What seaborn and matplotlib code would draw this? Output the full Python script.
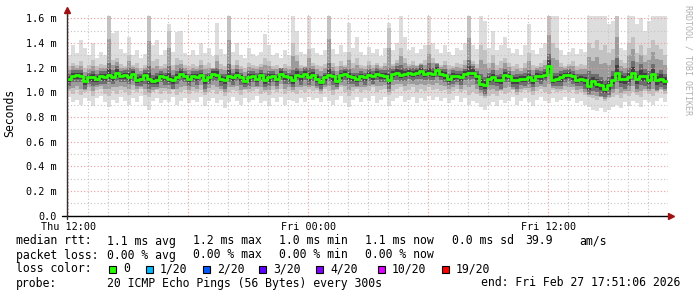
import numpy as np
import pandas as pd
import matplotlib
matplotlib.use("Agg")
import matplotlib.pyplot as plt
import matplotlib.dates as mdates
from matplotlib.ticker import FixedLocator, MultipleLocator, FuncFormatter
from matplotlib.patches import Rectangle
import seaborn as sns

# ---------------- data ----------------
start_time = "2026-02-26 11:55"
end_time = "2026-02-27 18:00"
step_minutes = 12

median_rtt = [
    1.11, 1.13, 1.14, 1.13, 1.09, 1.12, 1.12, 1.11, 1.13, 1.12, 1.14, 1.12, 1.16, 1.13, 1.14, 1.12,
    1.15, 1.10, 1.11, 1.14, 1.11, 1.09, 1.10, 1.13, 1.12, 1.11, 1.10, 1.12, 1.15, 1.13, 1.11,
    1.13, 1.12, 1.14, 1.10, 1.12, 1.15, 1.14, 1.11, 1.10, 1.13, 1.12, 1.14, 1.12, 1.09, 1.12, 1.13,
    1.11, 1.14, 1.10, 1.12, 1.13, 1.11, 1.15, 1.13, 1.12, 1.10, 1.14, 1.13, 1.15, 1.12, 1.14,
    1.11, 1.08, 1.12, 1.14, 1.13, 1.09, 1.14, 1.15, 1.13, 1.12, 1.11, 1.13, 1.12, 1.14, 1.13,
    1.15, 1.14, 1.13, 1.10, 1.15, 1.16, 1.14, 1.15, 1.16, 1.15, 1.16, 1.17, 1.15, 1.16, 1.15,
    1.18, 1.15, 1.14, 1.11, 1.13, 1.13, 1.12, 1.15, 1.16, 1.16, 1.13, 1.07, 1.06, 1.11, 1.12, 1.10,
    1.10, 1.14, 1.13, 1.10, 1.10, 1.11, 1.11, 1.12, 1.10, 1.13, 1.13, 1.14, 1.21, 1.10, 1.11,
    1.12, 1.14, 1.14, 1.13, 1.10, 1.11, 1.10, 1.05, 1.09, 1.07, 1.06, 1.03, 1.06, 1.10, 1.16,
    1.11, 1.11, 1.12, 1.16, 1.11, 1.13, 1.13, 1.10, 1.15, 1.10, 1.11, 1.09,
]

ping_max = [
    1.30, 1.38, 1.32, 1.42, 1.36, 1.30, 1.40, 1.28, 1.33, 1.30,
    1.62, 1.48, 1.50, 1.35, 1.32, 1.45, 1.30, 1.34, 1.28, 1.31,
    1.62, 1.38, 1.42, 1.30, 1.34, 1.55, 1.33, 1.49, 1.50, 1.32,
    1.30, 1.34, 1.30, 1.40, 1.32, 1.36, 1.29, 1.56, 1.35, 1.31,
    1.62, 1.33, 1.40, 1.30, 1.28, 1.36, 1.31, 1.29, 1.33, 1.47,
    1.38, 1.30, 1.32, 1.28, 1.34, 1.30, 1.62, 1.50, 1.33, 1.31,
    1.62, 1.36, 1.32, 1.30, 1.34, 1.62, 1.35, 1.31, 1.38, 1.33,
    1.56, 1.36, 1.45, 1.33, 1.30, 1.37, 1.32, 1.35, 1.29, 1.36,
    1.56, 1.34, 1.40, 1.62, 1.45, 1.34, 1.37, 1.32, 1.35, 1.38,
    1.62, 1.40, 1.35, 1.32, 1.38, 1.33, 1.30, 1.36, 1.34, 1.40,
    1.62, 1.38, 1.35, 1.62, 1.58, 1.36, 1.50, 1.34, 1.38, 1.45,
    1.36, 1.32, 1.35, 1.30, 1.38, 1.55, 1.34, 1.31, 1.36, 1.40,
    1.62, 1.62, 1.62, 1.34, 1.30, 1.33, 1.36, 1.31, 1.35, 1.33,
    1.62, 1.62, 1.62, 1.62, 1.62, 1.55, 1.58, 1.62, 1.36, 1.34,
    1.62, 1.62, 1.55, 1.60, 1.50, 1.58, 1.62, 1.62, 1.62, 1.62,
]

ping_min = [
    0.96, 0.92, 0.94, 0.90, 0.95, 0.93, 0.89, 0.95, 0.97, 0.92,
    0.88, 0.94, 0.91, 0.96, 0.93, 0.90, 0.95, 0.92, 0.97, 0.89,
    0.86, 0.93, 0.95, 0.91, 0.94, 0.92, 0.96, 0.90, 0.93, 0.95,
    0.91, 0.94, 0.92, 0.96, 0.89, 0.93, 0.95, 0.91, 0.94, 0.87,
    0.92, 0.96, 0.93, 0.90, 0.95, 0.92, 0.94, 0.97, 0.91, 0.93,
    0.89, 0.95, 0.92, 0.96, 0.90, 0.94, 0.93, 0.91, 0.95, 0.92,
    0.96, 0.94, 0.95, 0.92, 0.96, 0.93, 0.90, 0.94, 0.97, 0.91,
    0.88, 0.94, 0.96, 0.92, 0.95, 0.93, 0.97, 0.91, 0.94, 0.96,
    0.89, 0.93, 0.95, 0.97, 0.92, 0.94, 0.96, 0.91, 0.95, 0.93,
    0.97, 0.94, 0.96, 0.93, 0.95, 0.91, 0.94, 0.97, 0.92, 0.95,
    0.90, 0.93, 0.91, 0.88, 0.86, 0.90, 0.92, 0.89, 0.94, 0.91,
    0.93, 0.96, 0.90, 0.93, 0.95, 0.92, 0.89, 0.94, 0.96, 0.93,
    0.91, 0.95, 0.92, 0.94, 0.96, 0.93, 0.95, 0.91, 0.93, 0.90,
    0.88, 0.86, 0.85, 0.87, 0.84, 0.86, 0.88, 0.90, 0.87, 0.92,
    0.89, 0.93, 0.91, 0.88, 0.94, 0.92, 0.90, 0.93, 0.95, 0.92,
]

ping_high = [
    1.21, 1.24, 1.22, 1.25, 1.20, 1.22, 1.26, 1.21, 1.23, 1.22,
    1.62, 1.26, 1.28, 1.23, 1.21, 1.30, 1.22, 1.24, 1.20, 1.22,
    1.62, 1.25, 1.27, 1.21, 1.23, 1.50, 1.22, 1.28, 1.26, 1.22,
    1.21, 1.23, 1.21, 1.26, 1.22, 1.24, 1.20, 1.30, 1.23, 1.21,
    1.62, 1.22, 1.26, 1.21, 1.20, 1.24, 1.22, 1.21, 1.23, 1.28,
    1.25, 1.21, 1.22, 1.20, 1.23, 1.21, 1.40, 1.30, 1.22, 1.21,
    1.35, 1.24, 1.22, 1.21, 1.23, 1.62, 1.24, 1.21, 1.25, 1.22,
    1.33, 1.24, 1.28, 1.22, 1.21, 1.25, 1.22, 1.24, 1.21, 1.24,
    1.52, 1.23, 1.26, 1.36, 1.28, 1.23, 1.25, 1.22, 1.24, 1.26,
    1.38, 1.28, 1.24, 1.22, 1.25, 1.22, 1.21, 1.24, 1.23, 1.26,
    1.62, 1.25, 1.23, 1.38, 1.34, 1.24, 1.30, 1.22, 1.25, 1.28,
    1.24, 1.21, 1.23, 1.20, 1.24, 1.32, 1.22, 1.21, 1.24, 1.26,
    1.62, 1.40, 1.36, 1.24, 1.21, 1.23, 1.25, 1.21, 1.23, 1.22,
    1.40, 1.36, 1.42, 1.34, 1.38, 1.32, 1.35, 1.62, 1.26, 1.24,
    1.40, 1.45, 1.32, 1.38, 1.30, 1.36, 1.42, 1.38, 1.35, 1.30,
]

ping_low = [
    1.01, 0.99, 1.02, 0.98, 1.00, 1.01, 0.97, 1.02, 1.03, 0.99,
    0.97, 1.01, 0.99, 1.02, 1.00, 0.98, 1.02, 1.00, 1.03, 0.98,
    0.96, 1.00, 1.02, 0.99, 1.01, 0.99, 1.02, 0.98, 1.00, 1.02,
    0.99, 1.01, 1.00, 1.02, 0.98, 1.00, 1.02, 0.99, 1.01, 0.97,
    1.00, 1.02, 1.01, 0.98, 1.02, 1.00, 1.01, 1.03, 0.99, 1.00,
    0.98, 1.02, 1.00, 1.03, 0.99, 1.01, 1.00, 0.99, 1.02, 1.00,
    1.03, 1.01, 1.02, 0.99, 1.03, 1.01, 0.98, 1.02, 1.04, 1.00,
    0.97, 1.01, 1.03, 1.00, 1.02, 1.01, 1.04, 1.00, 1.02, 1.03,
    0.98, 1.01, 1.03, 1.04, 1.01, 1.02, 1.04, 1.00, 1.03, 1.01,
    1.04, 1.02, 1.03, 1.01, 1.02, 0.99, 1.01, 1.03, 1.00, 1.02,
    0.98, 1.00, 0.99, 0.97, 0.95, 0.97, 0.99, 0.97, 1.01, 0.99,
    1.00, 1.02, 0.98, 1.00, 1.02, 1.00, 0.98, 1.01, 1.03, 1.00,
    0.99, 1.02, 1.00, 1.01, 1.02, 1.00, 1.02, 0.99, 1.00, 0.98,
    0.96, 0.95, 0.94, 0.96, 0.93, 0.95, 0.96, 0.98, 0.95, 0.99,
    0.97, 1.00, 0.98, 0.96, 1.01, 0.99, 0.97, 1.00, 1.02, 0.99,
]

# spread of the dark core above / below the median (ms)
core_up = [
    0.04, 0.05, 0.04, 0.05, 0.04, 0.04, 0.05, 0.04, 0.04, 0.05,
    0.10, 0.06, 0.05, 0.04, 0.04, 0.08, 0.04, 0.05, 0.04, 0.04,
    0.10, 0.05, 0.06, 0.04, 0.04, 0.10, 0.04, 0.05, 0.05, 0.04,
    0.04, 0.04, 0.05, 0.04, 0.05, 0.04, 0.04, 0.06, 0.04, 0.05,
    0.10, 0.04, 0.05, 0.04, 0.04, 0.05, 0.04, 0.05, 0.04, 0.06,
    0.05, 0.04, 0.04, 0.05, 0.04, 0.04, 0.08, 0.06, 0.04, 0.05,
    0.08, 0.05, 0.04, 0.05, 0.04, 0.10, 0.04, 0.05, 0.04, 0.04,
    0.06, 0.04, 0.05, 0.04, 0.04, 0.05, 0.04, 0.05, 0.04, 0.05,
    0.10, 0.04, 0.05, 0.08, 0.05, 0.04, 0.05, 0.04, 0.05, 0.04,
    0.08, 0.05, 0.05, 0.04, 0.05, 0.04, 0.05, 0.04, 0.05, 0.04,
    0.10, 0.05, 0.04, 0.08, 0.06, 0.05, 0.06, 0.04, 0.05, 0.05,
    0.04, 0.04, 0.05, 0.04, 0.05, 0.06, 0.04, 0.05, 0.04, 0.05,
    0.10, 0.06, 0.05, 0.05, 0.04, 0.05, 0.04, 0.05, 0.04, 0.05,
    0.12, 0.06, 0.08, 0.06, 0.07, 0.06, 0.07, 0.12, 0.06, 0.05,
    0.08, 0.09, 0.06, 0.10, 0.06, 0.07, 0.08, 0.06, 0.07, 0.06,
]
core_down = [
    0.06, 0.05, 0.06, 0.05, 0.06, 0.05, 0.07, 0.05, 0.06, 0.05,
    0.06, 0.05, 0.07, 0.05, 0.06, 0.05, 0.06, 0.05, 0.06, 0.07,
    0.08, 0.05, 0.06, 0.05, 0.06, 0.05, 0.07, 0.05, 0.06, 0.05,
    0.06, 0.05, 0.06, 0.05, 0.07, 0.05, 0.06, 0.05, 0.06, 0.07,
    0.05, 0.06, 0.05, 0.06, 0.05, 0.07, 0.05, 0.06, 0.05, 0.06,
    0.07, 0.05, 0.06, 0.05, 0.06, 0.05, 0.06, 0.05, 0.07, 0.05,
    0.06, 0.05, 0.06, 0.05, 0.06, 0.05, 0.07, 0.05, 0.06, 0.05,
    0.06, 0.05, 0.06, 0.05, 0.06, 0.05, 0.06, 0.05, 0.06, 0.05,
    0.07, 0.05, 0.06, 0.05, 0.06, 0.05, 0.06, 0.05, 0.06, 0.05,
    0.06, 0.05, 0.06, 0.05, 0.06, 0.05, 0.06, 0.05, 0.06, 0.05,
    0.06, 0.05, 0.06, 0.05, 0.07, 0.05, 0.06, 0.05, 0.07, 0.06,
    0.05, 0.06, 0.07, 0.05, 0.06, 0.05, 0.06, 0.05, 0.06, 0.05,
    0.06, 0.05, 0.06, 0.07, 0.06, 0.05, 0.06, 0.05, 0.06, 0.07,
    0.06, 0.08, 0.07, 0.09, 0.07, 0.08, 0.07, 0.08, 0.07, 0.08,
    0.07, 0.06, 0.08, 0.07, 0.08, 0.07, 0.06, 0.08, 0.07, 0.06,
]

y_ticks = [0.0, 0.2, 0.4, 0.6, 0.8, 1.0, 1.2, 1.4, 1.6]
y_tick_labels = ["0.0", "0.2 m", "0.4 m", "0.6 m", "0.8 m", "1.0 m", "1.2 m", "1.4 m", "1.6 m"]
x_tick_times = ["2026-02-26 12:00", "2026-02-27 00:00", "2026-02-27 12:00"]
x_tick_labels = ["Thu 12:00", "Fri 00:00", "Fri 12:00"]

stats_rtt = ["median rtt:", "1.1 ms avg", "1.2 ms max", "1.0 ms min", "1.1 ms now", "0.0 ms sd", "39.9", "am/s"]
stats_loss = ["packet loss:", "0.00 % avg", "0.00 % max", "0.00 % min", "0.00 % now"]
loss_labels = ["0", "1/20", "2/20", "3/20", "4/20", "10/20", "19/20"]
loss_colors = ["#26ff00", "#00b8ff", "#0059ff", "#5e00ff", "#7e00ff", "#dd00ff", "#ff0000"]
probe_text = "20 ICMP Echo Pings (56 Bytes) every 300s"
end_text = "end: Fri Feb 27 17:51:06 2026"
credit_text = "RRDTOOL / TOBI OETIKER"

for arr in (ping_max, ping_min, ping_high, ping_low, core_up, core_down):
    assert len(arr) == len(median_rtt), len(arr)

# ---------------- figure ----------------
sns.set_style("white")
plt.rcParams["font.family"] = ["DejaVu Sans Mono"]

FW, FH = 697, 297
fig = plt.figure(figsize=(FW / 100, FH / 100), dpi=100)
L, R, T, B = 66.6, 668.3, 13.3, 215.7
ax = fig.add_axes([L / FW, 1 - B / FH, (R - L) / FW, (B - T) / FH])

n = len(median_rtt)
edges = pd.date_range(start_time, periods=n + 1, freq=f"{step_minutes}min")
xe = mdates.date2num(edges)
med = np.array(median_rtt)
c_hi = med + np.array(core_up)
c_lo = med - np.array(core_down)
p_hi = np.array(ping_high)
p_lo = np.array(ping_low)


def stepv(a):
    a = np.asarray(a, dtype=float)
    return np.append(a, a[-1])


# smoke: layered shades from the outermost pings to the median
layers = [
    (ping_min, ping_max, "#dddddd"),
    (p_lo, p_hi, "#c2c2c2"),
    ((p_lo + c_lo) / 2, (p_hi + c_hi) / 2, "#9c9c9c"),
    (c_lo, c_hi, "#6e6e6e"),
    ((c_lo + med) / 2, (c_hi + med) / 2, "#424242"),
]
for i, (lo, hi, col) in enumerate(layers):
    ax.fill_between(xe, stepv(lo), stepv(hi), step="post", color=col, lw=0, zorder=1 + 0.1 * i)

df = pd.DataFrame({"t": xe, "median": stepv(med)})
sns.lineplot(data=df, x="t", y="median", drawstyle="steps-post", color="#26ff00",
             lw=2.0, estimator=None, sort=False, ax=ax, zorder=4)

ax.set_xlim(mdates.date2num(pd.Timestamp(start_time)), mdates.date2num(pd.Timestamp(end_time)))
ax.set_ylim(0, 1.64)

ax.yaxis.set_major_locator(FixedLocator(y_ticks))
ax.yaxis.set_minor_locator(MultipleLocator(0.1))
ax.set_yticklabels(y_tick_labels)

ax.xaxis.set_major_locator(mdates.HourLocator(byhour=[0, 6, 12, 18]))
ax.xaxis.set_minor_locator(mdates.HourLocator(interval=1))
label_map = {round(mdates.date2num(pd.Timestamp(t)), 6): lab for t, lab in zip(x_tick_times, x_tick_labels)}
ax.xaxis.set_major_formatter(FuncFormatter(lambda v, p: label_map.get(round(v, 6), "")))

ax.set_axisbelow(False)
ax.grid(which="minor", color="#c4c4c4", ls=(0, (1, 2)), lw=0.8)
ax.grid(which="major", color="#eb9c9c", ls=(0, (1, 2)), lw=0.8)

ax.tick_params(axis="both", which="major", direction="out", length=3, width=0.8, color="black",
               labelsize=7.3, labelcolor="black")
ax.tick_params(axis="both", which="minor", direction="out", length=1.5, width=0.6, color="black")
ax.tick_params(axis="y", pad=4)
ax.tick_params(axis="x", pad=1.5)
ax.set_xlabel("")
ax.set_ylabel("")
for s in ax.spines.values():
    s.set_visible(False)


def fx(px):
    return (px - L) / (R - L)


def fy(py):
    return (B - py) / (B - T)


ax.plot([fx(62), fx(670)], [0, 0], transform=ax.transAxes, color="black", lw=1.0, clip_on=False, zorder=6)
ax.plot([0, 0], [fy(219), fy(10)], transform=ax.transAxes, color="#303030", lw=1.0, clip_on=False, zorder=6)
ax.plot([fx(671)], [0], marker=">", ms=4.5, color="#a01010", transform=ax.transAxes, clip_on=False, zorder=7)
ax.plot([0], [fy(10)], marker="^", ms=4.5, color="#a01010", transform=ax.transAxes, clip_on=False, zorder=7)

FS = 8.3


def ftext(x, y, s, **kw):
    kw.setdefault("fontsize", FS)
    kw.setdefault("va", "center")
    kw.setdefault("ha", "left")
    fig.text(x / FW, 1 - y / FH, s, color=kw.pop("color", "black"), **kw)


ftext(10, 113, "Seconds", rotation=90, ha="center")
ftext(688, 60, credit_text, rotation=270, ha="center", fontsize=6.0, color="#b0b0b0")

rtt_x = [16, 107, 193, 279, 365, 452, 525, 579]
for x, s in zip(rtt_x, stats_rtt):
    ftext(x, 241, s)
for x, s in zip(rtt_x, stats_loss):
    ftext(x, 255, s)

ftext(16, 269, "loss color:")
sq_x = [109, 146, 203, 259, 316, 378, 442]
for x, c, lab in zip(sq_x, loss_colors, loss_labels):
    fig.add_artist(Rectangle((x / FW, 1 - 272.5 / FH), 7 / FW, 7 / FH, transform=fig.transFigure,
                             facecolor=c, edgecolor="black", lw=0.8))
    ftext(x + 14, 269, lab)

ftext(16, 283, "probe:")
ftext(107, 283, probe_text)
ftext(680, 283, end_text, ha="right")

fig.savefig("out.png", dpi=100, facecolor="white")
